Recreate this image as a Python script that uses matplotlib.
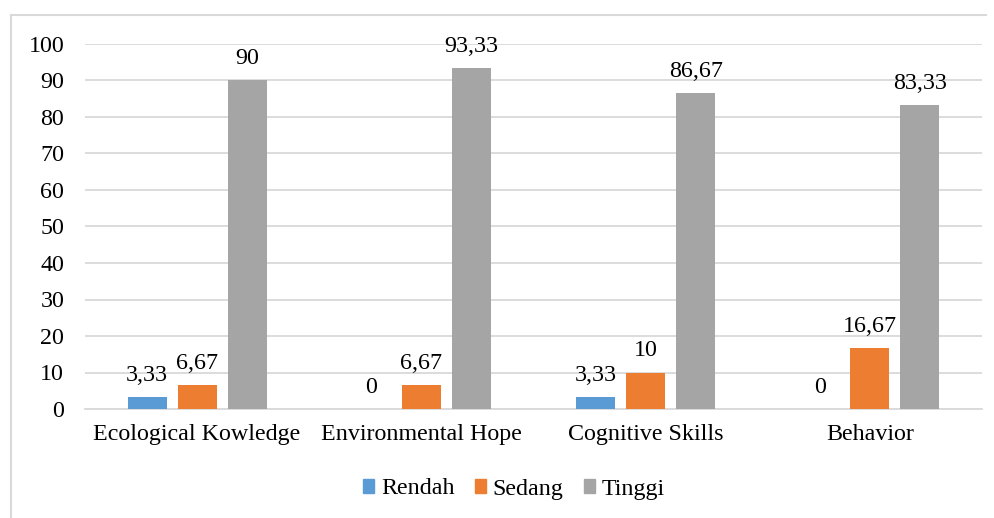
import matplotlib
matplotlib.use("Agg")
import matplotlib.pyplot as plt
import numpy as np
from matplotlib.lines import Line2D

categories = ["Ecological Kowledge", "Environmental Hope", "Cognitive Skills", "Behavior"]
series_names = ["Rendah", "Sedang", "Tinggi"]
rendah = [3.33, 0, 3.33, 0]
sedang = [6.67, 6.67, 10, 16.67]
tinggi = [90, 93.33, 86.67, 83.33]
colors = ["#5B9BD5", "#ED7D31", "#A5A5A5"]

plt.rcParams['font.family'] = ['Liberation Serif', 'DejaVu Serif']
FS = 17.3

fig = plt.figure(figsize=(9.95, 5.18), dpi=100)
ax = fig.add_axes([85/995, 1-409/518, (982-85)/995, (409-44)/518])

x = np.arange(len(categories))
w = 0.174
step = 0.223
for i, (vals, name, c) in enumerate(zip([rendah, sedang, tinggi], series_names, colors)):
    pos = x + (i-1)*step
    ax.bar(pos, vals, width=w, color=c, label=name, zorder=3)
    for p, v in zip(pos, vals):
        s = (f"{v:.2f}".rstrip('0').rstrip('.')).replace('.', ',')
        ax.annotate(s, (p, v), xytext=(0, 8), textcoords='offset points',
                    ha='center', va='bottom', fontsize=FS, color='#000000')

ax.set_xlim(-0.5, len(categories)-0.5)
ax.set_ylim(0, 100)
ax.set_yticks(np.arange(0, 101, 10))
ax.set_xticks(x)
ax.set_xticklabels(categories)
ax.yaxis.grid(True, color='#D9D9D9', linewidth=1.3, zorder=0)
for s in ['left', 'right', 'top']:
    ax.spines[s].set_visible(False)
ax.spines['bottom'].set_color('#D9D9D9')
ax.spines['bottom'].set_linewidth(1.3)
ax.tick_params(axis='both', length=0, labelsize=FS, colors='#000000')
ax.tick_params(axis='y', pad=15)
ax.tick_params(axis='x', pad=11)

handles = [plt.Rectangle((0, 0), 1, 1, color=c) for c in colors]
fig.legend(handles, series_names, loc='center', bbox_to_anchor=(514/995, 1-489/518),
           ncol=3, frameon=False, fontsize=FS, handlelength=0.47, handleheight=0.47,
           handletextpad=0.28, columnspacing=0.85)

# outer border (clipped at right/bottom as in reference)
fig.add_artist(Line2D([11/995, 986/995], [1-15/518, 1-15/518], color='#D9D9D9', lw=1.5, transform=fig.transFigure))
fig.add_artist(Line2D([11/995, 11/995], [1-15/518, 0], color='#D9D9D9', lw=1.5, transform=fig.transFigure))

fig.savefig("out.png", dpi=100)
